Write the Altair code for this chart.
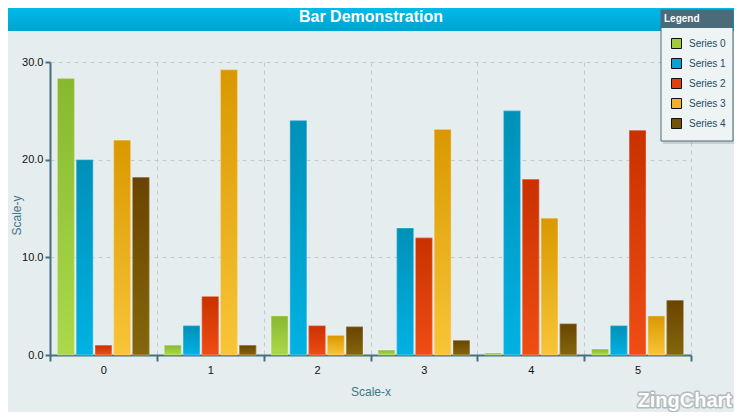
import altair as alt
import pandas as pd

categories = ["0", "1", "2", "3", "4", "5"]
series_names = ["Series 0", "Series 1", "Series 2", "Series 3", "Series 4"]
s0 = [28.3, 1.0, 4.0, 0.5, 0.2, 0.6]
s1 = [20.0, 3.0, 24.0, 13.0, 25.0, 3.0]
s2 = [1.0, 6.0, 3.0, 12.0, 18.0, 23.0]
s3 = [22.0, 29.2, 2.0, 23.1, 14.0, 4.0]
s4 = [18.2, 1.0, 2.9, 1.5, 3.2, 5.6]
all_series = [s0, s1, s2, s3, s4]

# styles
solid_colors = ["#9fcc3b", "#07a3d3", "#e0410f", "#f0b226", "#74520a"]
grad_top = ["#88b830", "#0090b8", "#c93100", "#d99800", "#6a4400"]
grad_bottom = ["#aada4a", "#00b2e2", "#ef4d14", "#f8c538", "#83670b"]
FONT = "Liberation Sans"

rows = []
for name, vals in zip(series_names, all_series):
    for c, v in zip(categories, vals):
        rows.append({"category": c, "series": name, "value": v})
df = pd.DataFrame(rows)

W, H = 641, 293
PL, PT, PR, PB = 42, 54, 43, 57

one = alt.Data(values=[{"k": 1}])

title_bar = alt.Chart(one).mark_rect(
    fill=alt.Gradient(gradient="linear", x1=0, x2=0, y1=0, y2=1,
                      stops=[alt.GradientStop(offset=0, color="#00bae9"),
                             alt.GradientStop(offset=1, color="#00a2d2")])
).encode(x=alt.value(-PL), x2=alt.value(W + PR), y=alt.value(-PT), y2=alt.value(-PT + 23))

title_text = alt.Chart(one).mark_text(
    text="Bar Demonstration", font=FONT, fontSize=16, fontWeight="bold",
    color="white", align="center", baseline="middle"
).encode(x=alt.value(321), y=alt.value(-PT + 9))

x_enc = alt.X("category:N", sort=categories, title="Scale-x",
              scale=alt.Scale(paddingInner=0, paddingOuter=0),
              axis=alt.Axis(labelAngle=0, tickBand="extent", grid=True,
                            gridDash=[4, 4], gridColor="#c3cbcf",
                            domainColor="#46707f", domainWidth=2,
                            tickColor="#46707f", tickWidth=2, tickSize=6,
                            labelFont=FONT, labelFontSize=11, labelColor="#111",
                            labelPadding=3, titleFont=FONT, titleFontSize=12,
                            titleFontWeight="normal", titleColor="#3f7587",
                            titlePadding=11))
y_enc = alt.Y("value:Q", title="Scale-y",
              scale=alt.Scale(domain=[0, 30], nice=False),
              axis=alt.Axis(values=[0, 10, 20, 30], format=".1f", grid=True,
                            gridDash=[4, 4], gridColor="#c3cbcf",
                            domainColor="#46707f", domainWidth=2,
                            tickColor="#46707f", tickWidth=2, tickSize=5,
                            labelFont=FONT, labelFontSize=11, labelColor="#111",
                            labelPadding=2, titleFont=FONT, titleFontSize=12,
                            titleFontWeight="normal", titleColor="#3f7587",
                            titleX=-34, titleY=153, titleBaseline="middle",
                            titleAngle=270, titleAlign="center"))
xo_enc = alt.XOffset("series:N", sort=series_names,
                     scale=alt.Scale(domain=series_names, paddingInner=0.1, paddingOuter=0.4))

base_bars = alt.Chart(df).mark_bar().encode(
    x=x_enc, y=y_enc, xOffset=xo_enc,
    color=alt.Color("series:N", sort=series_names,
                    scale=alt.Scale(domain=series_names, range=solid_colors),
                    legend=alt.Legend(title=None, orient="none", legendX=621, legendY=-24,
                                      padding=0, symbolType="square", symbolSize=100,
                                      symbolStrokeColor="#111", symbolStrokeWidth=1,
                                      labelFont=FONT, labelFontSize=10, labelColor="#1c4a66",
                                      labelOffset=7, rowPadding=5))
)

grad_layers = []
for name, top, bot in zip(series_names, grad_top, grad_bottom):
    g = alt.Gradient(gradient="linear", x1=0, x2=0, y1=1, y2=0,
                     stops=[alt.GradientStop(offset=0, color=bot),
                            alt.GradientStop(offset=1, color=top)])
    layer = alt.Chart(df).transform_filter(alt.datum.series == name).mark_bar(
        fill=g, stroke="#ffffff", strokeOpacity=0.35, strokeWidth=1
    ).encode(x=x_enc, y=y_enc, xOffset=xo_enc)
    grad_layers.append(layer)

legend_shadow = alt.Chart(one).mark_rect(fill="#000000", opacity=0.12).encode(
    x=alt.value(613), x2=alt.value(686), y=alt.value(-50), y2=alt.value(82))
legend_box = alt.Chart(one).mark_rect(fill="#eef3f4", stroke="#4a6b7a", strokeWidth=1).encode(
    x=alt.value(611), x2=alt.value(683), y=alt.value(-52), y2=alt.value(79))
legend_head = alt.Chart(one).mark_rect(fill="#4a6b7a").encode(
    x=alt.value(611), x2=alt.value(683), y=alt.value(-52), y2=alt.value(-34))
legend_title = alt.Chart(one).mark_text(
    text="Legend", font=FONT, fontSize=10, fontWeight="bold", color="white",
    align="left", baseline="middle").encode(x=alt.value(614), y=alt.value(-43))

wm_shadow = alt.Chart(one).mark_text(
    text="ZingChart", font=FONT, fontSize=20, fontWeight="bold", color="#b3babd",
    stroke="#b3babd", strokeWidth=3, strokeJoin="round", align="right", baseline="alphabetic"
).encode(x=alt.value(682), y=alt.value(345))
wm_text = alt.Chart(one).mark_text(
    text="ZingChart", font=FONT, fontSize=20, fontWeight="bold", color="#ffffff",
    align="right", baseline="alphabetic"
).encode(x=alt.value(682), y=alt.value(345))

chart = alt.layer(
    title_bar, title_text, base_bars, *grad_layers,
    legend_shadow, legend_box, legend_head, legend_title, wm_shadow, wm_text
).properties(
    width=W, height=H,
    autosize=alt.AutoSizeParams(type="none"),
    padding={"left": PL, "top": PT, "right": PR, "bottom": PB},
    background="#e6edef",
).configure_view(strokeWidth=0)

chart.save("out.html", embed_options={"renderer": "svg", "actions": False})
